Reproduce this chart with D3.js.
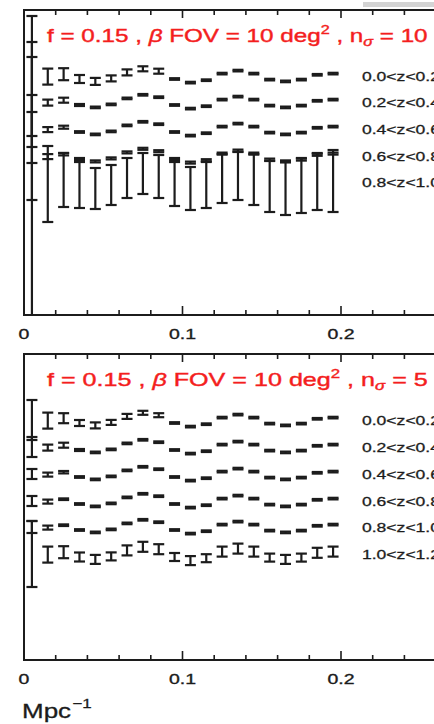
<!DOCTYPE html>
<html><head><meta charset="utf-8">
<script src="https://cdn.jsdelivr.net/npm/d3@7/dist/d3.min.js"></script>
<style>body{margin:0;background:#fff}svg{display:block}</style>
</head><body>
<svg id="chart" width="434" height="724"></svg>
<script>
// ---------------- data ----------------
const kValues = [0.005,0.015,0.025,0.035,0.045,0.055,0.065,0.075,0.085,0.095,
                 0.105,0.115,0.125,0.135,0.145,0.155,0.165,0.175,0.185,0.195];
const xTickValues = [0, 0.1, 0.2];
const xTickLabels = ["0", "0.1", "0.2"];
const xAxisLabel = "Mpc";
const xAxisExp = "\u22121";

const topLabels = ["0.0<z<0.2","0.2<z<0.4","0.4<z<0.6","0.6<z<0.8","0.8<z<1.0"];
const bottomLabels = ["0.0<z<0.2","0.2<z<0.4","0.4<z<0.6","0.6<z<0.8","0.8<z<1.0","1.0<z<1.2"];
const topNsigma = "10";
const bottomNsigma = " 5";

// top panel (n_sigma = 10): values and 1-sigma errors per redshift bin
const topVals0 = [2.39,2.384,2.408,2.36,2.336,2.366,2.426,2.462,2.438,2.36,2.324,2.348,2.414,2.444,2.414,2.354,2.336,2.354,2.402,2.414];
const topErr0  = [0.60,0.08,0.06,0.04,0.035,0.03,0.03,0.025,0.025,0.008,0.008,0.008,0.008,0.008,0.008,0.008,0.008,0.008,0.008,0.008];
const topVals1 = [2.13,2.124,2.148,2.10,2.076,2.106,2.166,2.202,2.178,2.10,2.064,2.088,2.154,2.184,2.154,2.094,2.076,2.094,2.142,2.154];
const topErr1  = [0.45,0.03,0.025,0.01,0.008,0.008,0.008,0.008,0.008,0.008,0.008,0.008,0.008,0.008,0.008,0.008,0.008,0.008,0.008,0.008];
const topVals2 = [1.86,1.854,1.878,1.83,1.806,1.836,1.896,1.932,1.908,1.83,1.794,1.818,1.884,1.914,1.884,1.824,1.806,1.824,1.872,1.884];
const topErr2  = [0.34,0.025,0.015,0.008,0.008,0.008,0.008,0.008,0.008,0.008,0.008,0.008,0.008,0.008,0.008,0.008,0.008,0.008,0.008,0.008];
const topVals3 = [1.59,1.584,1.608,1.56,1.536,1.566,1.626,1.662,1.638,1.56,1.524,1.548,1.614,1.644,1.614,1.554,1.536,1.554,1.602,1.614];
const topErr3  = [0.44,0.025,0.012,0.01,0.01,0.01,0.01,0.01,0.01,0.01,0.01,0.01,0.01,0.01,0.01,0.01,0.01,0.01,0.01,0.01];
const topVals4 = [1.33,1.31,1.35,1.30,1.265,1.30,1.37,1.415,1.385,1.31,1.265,1.30,1.365,1.39,1.355,1.285,1.265,1.295,1.335,1.34];
const topErr4  = [1.40,0.38,0.27,0.23,0.205,0.20,0.20,0.205,0.215,0.22,0.215,0.23,0.245,0.24,0.255,0.255,0.265,0.275,0.285,0.31];

// bottom panel (n_sigma = 5)
const botVals0 = [2.40,2.394,2.418,2.37,2.346,2.376,2.436,2.472,2.448,2.37,2.334,2.358,2.424,2.454,2.424,2.364,2.346,2.364,2.412,2.424];
const botErr0  = [0.20,0.08,0.05,0.03,0.03,0.025,0.025,0.02,0.02,0.008,0.008,0.008,0.008,0.008,0.008,0.008,0.008,0.008,0.008,0.008];
const botVals1 = [2.13,2.124,2.148,2.10,2.076,2.106,2.166,2.202,2.178,2.10,2.064,2.088,2.154,2.184,2.154,2.094,2.076,2.094,2.142,2.154];
const botErr1  = [0.10,0.03,0.025,0.01,0.008,0.008,0.008,0.008,0.008,0.008,0.008,0.008,0.008,0.008,0.008,0.008,0.008,0.008,0.008,0.008];
const botVals2 = [1.86,1.854,1.878,1.83,1.806,1.836,1.896,1.932,1.908,1.83,1.794,1.818,1.884,1.914,1.884,1.824,1.806,1.824,1.872,1.884];
const botErr2  = [0.05,0.02,0.012,0.008,0.008,0.008,0.008,0.008,0.008,0.008,0.008,0.008,0.008,0.008,0.008,0.008,0.008,0.008,0.008,0.008];
const botVals3 = [1.59,1.584,1.608,1.56,1.536,1.566,1.626,1.662,1.638,1.56,1.524,1.548,1.614,1.644,1.614,1.554,1.536,1.554,1.602,1.614];
const botErr3  = [0.05,0.02,0.008,0.008,0.008,0.008,0.008,0.008,0.008,0.008,0.008,0.008,0.008,0.008,0.008,0.008,0.008,0.008,0.008,0.008];
const botVals4 = [1.33,1.324,1.348,1.30,1.276,1.306,1.366,1.402,1.378,1.30,1.264,1.288,1.354,1.384,1.354,1.294,1.276,1.294,1.342,1.354];
const botErr4  = [0.06,0.02,0.008,0.008,0.008,0.008,0.008,0.008,0.008,0.008,0.008,0.008,0.008,0.008,0.008,0.008,0.008,0.008,0.008,0.008];
const botVals5 = [1.06,1.054,1.078,1.03,1.006,1.036,1.096,1.132,1.108,1.03,0.994,1.018,1.084,1.114,1.084,1.024,1.006,1.024,1.072,1.084];
const botErr5  = [0.33,0.08,0.06,0.045,0.045,0.04,0.05,0.05,0.05,0.04,0.045,0.04,0.05,0.05,0.05,0.04,0.045,0.04,0.05,0.05];

// ---------------- drawing ----------------
const svg = d3.select("#chart");
const FONT = "'Liberation Sans', Arial, Helvetica, sans-serif";
const INK = "#1c1c1c";
const RED = "#f41e1e";
const STRETCH = 1.3;

// faint grey bar at the very top right
svg.append("rect").attr("x",363).attr("y",2).attr("width",80).attr("height",5).attr("fill","#d4d4d4");

const panels = [
  {top:10, bottom:315, ymax:3.05, labels:topLabels, n:topNsigma,
   series:[[topVals0,topErr0],[topVals1,topErr1],[topVals2,topErr2],[topVals3,topErr3],[topVals4,topErr4]]},
  {top:354, bottom:660, ymax:3.06, labels:bottomLabels, n:bottomNsigma,
   series:[[botVals0,botErr0],[botVals1,botErr1],[botVals2,botErr2],[botVals3,botErr3],[botVals4,botErr4],[botVals5,botErr5]]}
];

const x = d3.scaleLinear().domain([0, 0.28]).range([24, 24 + 0.28*1585]);
const minorTicks = d3.range(0, 0.281, 0.02).map(v => +v.toFixed(3));

panels.forEach((p, pi) => {
  const y = d3.scaleLinear().domain([0, p.ymax]).range([p.bottom, p.top]);
  const g = svg.append("g");
  const clipId = "clip" + pi;
  svg.append("clipPath").attr("id", clipId)
    .append("rect").attr("x", 24).attr("y", p.top).attr("width", 420).attr("height", p.bottom - p.top);

  // frame
  g.append("rect").attr("x", 24).attr("y", p.top).attr("width", 440).attr("height", p.bottom - p.top)
    .attr("fill","none").attr("stroke", INK).attr("stroke-width", 2);

  const isMajor = v => Math.abs(v*10 - Math.round(v*10)) < 1e-6;
  g.selectAll("line.tb").data(minorTicks).join("line")
    .attr("x1", d => x(d)).attr("x2", d => x(d))
    .attr("y1", p.bottom).attr("y2", d => p.bottom - (isMajor(d) ? 9 : 5))
    .attr("stroke", INK).attr("stroke-width", 1.6);
  g.selectAll("line.tt").data(minorTicks).join("line")
    .attr("x1", d => x(d)).attr("x2", d => x(d))
    .attr("y1", p.top).attr("y2", d => p.top + (isMajor(d) ? 8 : 5))
    .attr("stroke", INK).attr("stroke-width", 1.6);

  // tick labels
  xTickValues.forEach((v, i) => {
    g.append("text").attr("transform", `translate(${x(v)},${p.bottom + 24}) scale(${STRETCH},1)`)
      .attr("text-anchor","middle").attr("font-family", FONT).attr("font-size", 15)
      .attr("fill", INK).attr("stroke", INK).attr("stroke-width", 0.35).text(xTickLabels[i]);
  });

  // title
  const t = g.append("text").attr("font-family", FONT).attr("font-size", 18).attr("fill", RED)
    .attr("stroke", RED).attr("stroke-width", 0.4)
    .attr("transform", `translate(47,${p.top + 32})`);
  t.append("tspan").text("f = 0.15 , ");
  t.append("tspan").attr("font-style","italic").text("\u03b2");
  t.append("tspan").text(" FOV = 10 deg");
  t.append("tspan").attr("font-size", 12).attr("dy", -8).text("2");
  t.append("tspan").attr("dy", 8).text(" , n");
  t.append("tspan").attr("font-size", 12).attr("font-style","italic").attr("dy", 4).text("\u03c3");
  t.append("tspan").attr("dy", -4).text(" = " + p.n);
  const w = t.node().getComputedTextLength();
  t.attr("transform", `translate(47,${p.top + 32}) scale(${381 / w},1)`);

  // error bars
  const plot = g.append("g").attr("clip-path", `url(#${clipId})`);
  p.series.forEach(([vals, errs], si) => {
    const pts = kValues.map((k, i) => ({k, v: vals[i], e: errs[i]}));
    const sg = plot.append("g").attr("stroke", INK).attr("stroke-width", 2.2);
    sg.selectAll("line.v").data(pts).join("line")
      .attr("x1", d => x(d.k)).attr("x2", d => x(d.k))
      .attr("y1", d => y(d.v - d.e)).attr("y2", d => y(d.v + d.e));
    sg.selectAll("line.hi").data(pts).join("line")
      .attr("x1", d => x(d.k) - 5.5).attr("x2", d => x(d.k) + 5.5)
      .attr("y1", d => y(d.v + d.e)).attr("y2", d => y(d.v + d.e));
    sg.selectAll("line.lo").data(pts).join("line")
      .attr("x1", d => x(d.k) - 5.5).attr("x2", d => x(d.k) + 5.5)
      .attr("y1", d => y(d.v - d.e)).attr("y2", d => y(d.v - d.e));

    // bin label
    g.append("text").attr("transform", `translate(362,${y(vals[0]) + 5}) scale(${STRETCH},1)`)
      .attr("font-family", FONT).attr("font-size", 13.5).attr("fill", INK)
      .attr("stroke", INK).attr("stroke-width", 0.3).text(p.labels[si]);
  });
});

// x-axis title
const xt = svg.append("text").attr("font-family", FONT).attr("font-size", 20).attr("fill", INK)
  .attr("stroke", INK).attr("stroke-width", 0.3)
  .attr("transform", `translate(22,718) scale(${STRETCH},1)`);
xt.append("tspan").text(xAxisLabel);
xt.append("tspan").attr("font-size", 13).attr("dy", -10).attr("dx", 1).text(xAxisExp);
</script>
</body></html>
